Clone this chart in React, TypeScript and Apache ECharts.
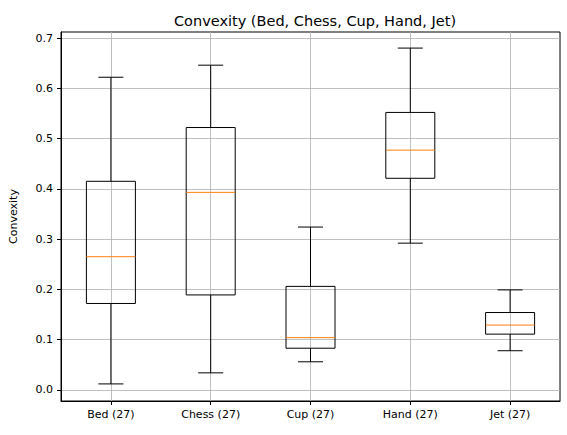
import React, { useEffect, useRef } from "react";
import * as echarts from "echarts";

const categories = ["Bed (27)", "Chess (27)", "Cup (27)", "Hand (27)", "Jet (27)"];
// [min, q1, median, q3, max]
const boxStats = [
  [0.012, 0.172, 0.265, 0.415, 0.622],
  [0.034, 0.189, 0.393, 0.522, 0.646],
  [0.056, 0.083, 0.104, 0.206, 0.324],
  [0.292, 0.421, 0.477, 0.552, 0.680],
  [0.078, 0.111, 0.129, 0.154, 0.199],
];
const yTicks = [0, 0.1, 0.2, 0.3, 0.4, 0.5, 0.6, 0.7];
const xTicks = [1, 2, 3, 4, 5];

export default function App() {
  const ref = useRef<HTMLDivElement>(null);
  useEffect(() => {
    const chart = echarts.init(ref.current!, null, { renderer: "svg" });
    const font = "DejaVu Sans";
    chart.setOption({
      animation: false,
      title: {
        text: "Convexity (Bed, Chess, Cup, Hand, Jet)",
        left: 310, top: 8, textAlign: "center",
        textStyle: { fontFamily: font, fontSize: 14.5, fontWeight: "normal", color: "#000" },
      },
      grid: { left: 60, right: 7, top: 32, bottom: 34, show: true, borderColor: "#000", borderWidth: 1 },
      xAxis: {
        type: "value", min: 0.5, max: 5.5,
        axisLine: { show: true, onZero: false, lineStyle: { color: "#000" } },
        axisTick: { show: true, customValues: xTicks, lineStyle: { color: "#000" }, length: 4 },
        axisLabel: {
          customValues: xTicks, color: "#000", fontFamily: font, fontSize: 11, margin: 8,
          formatter: (v: number) => categories[Math.round(v) - 1] ?? "",
        },
        splitLine: { show: true, lineStyle: { color: "#b0b0b0", width: 0.8 } },
      },
      yAxis: {
        type: "value", min: -0.022, max: 0.712,
        name: "Convexity", nameLocation: "middle", nameGap: 42, nameRotate: 90,
        nameTextStyle: { fontFamily: font, fontSize: 11, color: "#000" },
        axisLine: { show: true, onZero: false, lineStyle: { color: "#000" } },
        axisTick: { show: true, customValues: yTicks, lineStyle: { color: "#000" }, length: 4 },
        axisLabel: {
          customValues: yTicks, color: "#000", fontFamily: font, fontSize: 11, margin: 8,
          formatter: (v: number) => v.toFixed(1),
        },
        splitLine: { show: true, lineStyle: { color: "#b0b0b0", width: 0.8 } },
      },
      series: [
        {
          type: "custom",
          data: boxStats.map((s, i) => [i + 1, ...s]),
          renderItem: (params: any, api: any) => {
            const x = api.value(0);
            const [mn, q1, md, q3, mx] = [1, 2, 3, 4, 5].map((k) => api.value(k));
            const px = api.coord([x, 0])[0];
            const y = (v: number) => api.coord([x, v])[1];
            const bw = 24.5, cw = 12.5;
            const st = { stroke: "#000", lineWidth: 1, fill: "none" };
            return {
              type: "group",
              children: [
                { type: "line", shape: { x1: px, y1: y(mn), x2: px, y2: y(q1) }, style: st },
                { type: "line", shape: { x1: px, y1: y(q3), x2: px, y2: y(mx) }, style: st },
                { type: "line", shape: { x1: px - cw, y1: y(mn), x2: px + cw, y2: y(mn) }, style: st },
                { type: "line", shape: { x1: px - cw, y1: y(mx), x2: px + cw, y2: y(mx) }, style: st },
                { type: "rect", shape: { x: px - bw, y: y(q3), width: 2 * bw, height: y(q1) - y(q3) }, style: st },
                { type: "line", shape: { x1: px - bw, y1: y(md), x2: px + bw, y2: y(md) }, style: { stroke: "#ff7f0e", lineWidth: 1 } },
              ],
            };
          },
        },
      ],
    });
    return () => chart.dispose();
  }, []);
  return <div ref={ref} style={{ position: "fixed", left: 0, top: 0, width: 567, height: 435, background: "#fff" }} />;
}
